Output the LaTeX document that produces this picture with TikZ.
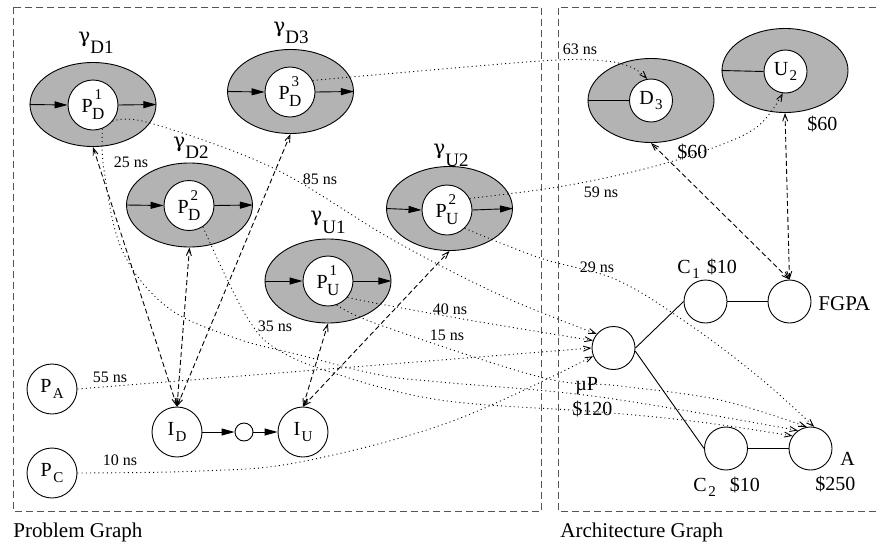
\documentclass[tikz,border=0pt]{standalone}
\usepackage{fontspec}
\setmainfont{Liberation Serif}
\newfontfamily\grk{DejaVu Serif}
\usetikzlibrary{shapes.geometric,arrows.meta}
\definecolor{fillgray}{RGB}{179,179,179}
\definecolor{boxgray}{RGB}{85,85,85}
\newcommand\fs[1]{\fontsize{#1}{#1}\selectfont}
\newcommand\PSS[2]{P\kern-0.5pt\raisebox{-7pt}{\fs{17}\rlap{\makebox[0.722em][c]{\raisebox{20pt}{\fs{15}#1}}}#2}}
\newcommand\sbx[1]{\kern1.5pt\raisebox{-5.5pt}{\fs{15}#1}}
\newcommand\gam[1]{{\grk\fs{20}γ}\raisebox{-11.5pt}{\fs{19}#1}}
\begin{document}
\begin{tikzpicture}[x=1pt,y=-1pt,line width=0.9pt,
  ell/.style={ellipse,draw,fill=fillgray,minimum width=126pt,minimum height=84pt,inner sep=0pt},
  pcir/.style={circle,draw,fill=white,minimum size=50pt,inner sep=0pt,font={\fs{20}}},
  acir/.style={circle,draw,fill=white,minimum size=43pt,inner sep=0pt,font={\fs{20}}},
  lbl/.style={inner sep=0pt,font={\fs{20}},anchor=base west},
  ns/.style={inner sep=0pt,font={\fs{16}}},
  farr/.style={-{Triangle[length=13pt,width=7pt]}},
  bind/.style={dash pattern=on 5pt off 3pt,{Straight Barb[length=7pt,width=5pt]}-{Straight Barb[length=7pt,width=5pt]}},
  map/.style={dash pattern=on 1pt off 3.2pt,-{Straight Barb[length=7pt,width=5pt]}},
  gbox/.style={draw=boxgray,dash pattern=on 7pt off 4pt}
]
\useasboundingbox (0,0) rectangle (876,544);
% frames
\draw[gbox] (13,7) rectangle (541.7,511);
\draw[gbox] (876,7) -| (558,511) -- (876,511);
\node[lbl,font={\fs{21}}] (tPG) at (13,537) {Problem Graph};
\node[lbl,font={\fs{21}}] (tAG) at (560,537) {Architecture Graph};

% problem graph ellipses
\node[ell] (gD1) at (93,104.5) {};
\node[ell] (gD3) at (290.5,91.5) {};
\node[ell] (gD2) at (189.5,205) {};
\node[ell] (gU1) at (328,281) {};
\node[ell] (gU2) at (449.5,208.5) {};
\node[pcir] (pd1) at (93,105) {\PSS{1}{D}};
\node[pcir] (pd3) at (290,92) {\PSS{3}{D}};
\node[pcir] (pd2) at (189,205.5) {\PSS{2}{D}};
\node[pcir] (pu1) at (328,281) {\PSS{1}{U}};
\node[pcir] (pu2) at (447,210) {\PSS{2}{U}};
\foreach \e/\c in {gD1/pd1,gD3/pd3,gD2/pd2,gU1/pu1,gU2/pu2}{
  \draw[farr] (\e.west) -- (\c.west);
  \draw[farr] (\c.east) -- (\e.east);
}
\node[lbl] (lD1) at (78,42) {\gam{D1}};
\node[lbl] (lD3) at (273,32) {\gam{D3}};
\node[lbl] (lD2) at (173,147) {\gam{D2}};
\node[lbl] (lU1) at (310,221.5) {\gam{U1}};
\node[lbl] (lU2) at (433,154.5) {\gam{U2}};

% lower problem nodes
\node[pcir] (pa) at (52,389) {P\sbx{A}};
\node[pcir] (pc) at (52,473) {P\sbx{C}};
\node[pcir] (iD) at (177,432) {I\sbx{D}};
\node[circle,draw,fill=white,minimum size=18pt,inner sep=0pt] (sm) at (244,432) {};
\node[pcir] (iU) at (303,432) {I\sbx{U}};
\draw[farr] (iD.east) -- (sm.west);
\draw[farr] (sm.east) -- (iU.west);

% architecture
\node[ell] (d3e) at (651,100.5) {};
\node[ell] (u2e) at (785,70.5) {};
\node[acir] (d3c) at (651,100.5) {D\sbx{3}};
\node[acir] (u2c) at (785.5,71.5) {U\sbx{2}};
\draw (d3e.west) -- (d3c.west);
\draw (u2e.west) -- (u2c.west);
\node[lbl] (t60a) at (677,158) {\$60};
\node[lbl] (t60b) at (807,130) {\$60};
\node[acir] (c1) at (705.5,301.5) {};
\node[acir] (fg) at (789.5,301.5) {};
\node[acir] (up) at (613.5,348) {};
\node[acir] (c2) at (726,448.5) {};
\node[acir] (A) at (810.5,448.5) {};
\draw (up.east) -- (c1.west);
\draw (up.-8) -- (c2.west);
\draw (c1.east) -- (fg.west);
\draw (c2.east) -- (A.west);
\node[lbl,font={\fs{21}}] (tFG) at (818,310) {FGPA};
\node[lbl] (tC1) at (677,273) {C\sbx{1}\hspace{7pt}\$10};
\node[lbl] (tC2) at (693,491) {C\sbx{2}\hspace{14pt}\$10};
\node[lbl] (tA) at (840,465) {A};
\node[lbl] (t250) at (815,490) {\$250};
\node[lbl] (tmu) at (575,390) {µP};
\node[lbl] (t120) at (572,415) {\$120};

% binding (dashed) edges
\draw[bind] (iD.north) -- (gD1.south);
\draw[bind] (iD.north) -- (gD2.south);
\draw[bind] (iD.north) -- (gD3.south);
\draw[bind] (iU.north) -- (gU1.south);
\draw[bind] (iU.north) -- (gU2.south);
\draw[bind] (fg.north) -- (d3e.south);
\draw[bind] (fg.north) -- (u2e.south);

% mapping (dotted) edges
\draw[map] plot[smooth,tension=0.6] coordinates {(pd1.-40) (150,123) (273,168) (393,240) (500,295) (up.140)};
\draw[map] plot[smooth,tension=0.6] coordinates {(pu1.-40) (380,304) (480,322) (up.160)};
\draw[map] (pa.east) -- (up.180);
\draw[map] plot[smooth,tension=0.6] coordinates {(pc.east) (200,471) (300,462) (450,422) (up.202)};
\draw[map] plot[smooth,tension=0.6] coordinates {(pu1.-70) (380,325) (540,377) (620,386) (720,400) (A.100)};
\draw[map] plot[smooth,tension=0.6] coordinates {(pu2.-46) (540,258) (617,280) (690,325) (760,378) (A.80)};
\draw[map] plot[smooth,tension=0.6] coordinates {(pd1.-68) (104,170) (122,250) (167,307) (235,338) (300,355) (380,375) (440,382) (600,397) (A.125)};
\draw[map] plot[smooth,tension=0.6] coordinates {(pd2.-57) (225,275) (250,322) (275,348) (330,372) (440,400) (600,412) (700,422) (A.145)};
\draw[map] plot[smooth,tension=0.55] coordinates {(pd3.27) (540,61) (605,61) (633,68) (d3c.100)};
\draw[map] plot[smooth,tension=0.6] coordinates {(pu2.27) (558,187) (640,170) (707,150) (757,127) (u2c.-97)};

% delay labels
\node[ns] (n25) at (131,162) {25 ns};
\node[ns] (n85) at (320,179) {85 ns};
\node[ns] (n35) at (275,326) {35 ns};
\node[ns] (n40) at (450,309) {40 ns};
\node[ns] (n15) at (447,335) {15 ns};
\node[ns] (n55) at (110,377) {55 ns};
\node[ns] (n10) at (120,460) {10 ns};
\node[ns] (n63) at (580,49) {63 ns};
\node[ns] (n59) at (601,192) {59 ns};
\node[ns] (n29) at (597,267) {29 ns};
\end{tikzpicture}
\end{document}
